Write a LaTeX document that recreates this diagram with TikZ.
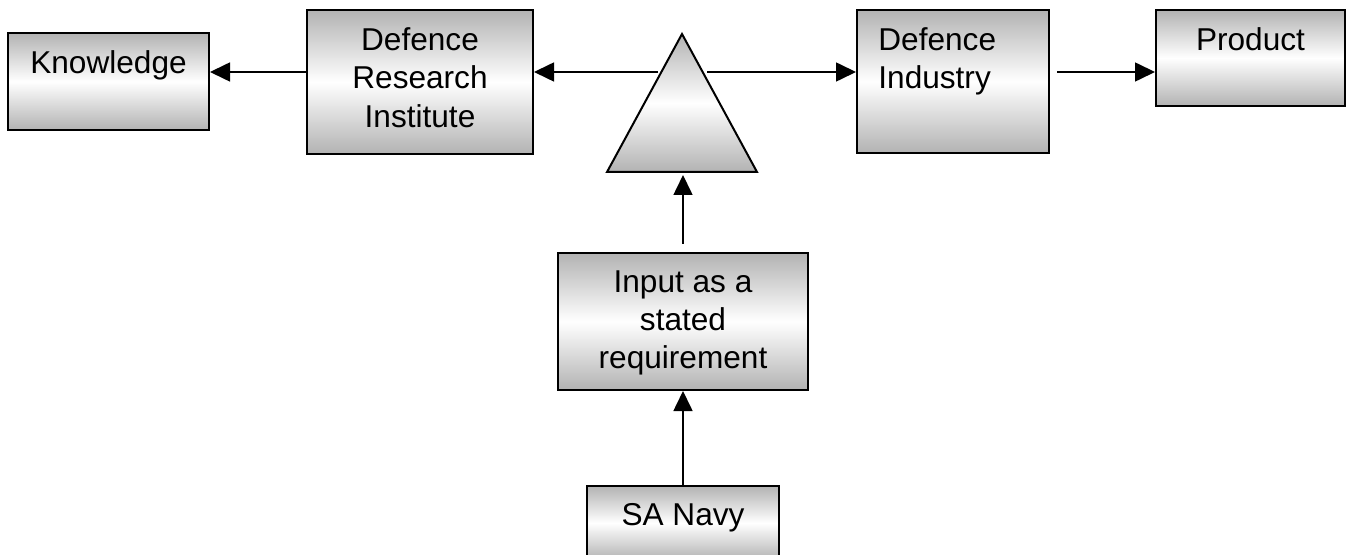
\documentclass[tikz,border=0pt]{standalone}
\usepackage{fontspec}
\setmainfont{Liberation Sans}
\usetikzlibrary{arrows.meta,positioning}
\tikzset{
  blok/.style={draw=black,line width=1pt,top color=black!30,bottom color=black!30,middle color=white,inner sep=0pt},
  txt/.style={inner sep=0pt,font=\fontsize{15.8pt}{19.2pt}\selectfont},
  pijl/.style={line width=0.8pt,-{Triangle[length=10pt,width=9.5pt]}}
}
\begin{document}
\begin{tikzpicture}[x=0.5pt,y=-0.5pt]
\useasboundingbox (0,0) rectangle (1348,555);
\node[blok,minimum width=100.5pt,minimum height=48.5pt] (know) at (108.5,81.5) {};
\node[blok,minimum width=113pt,minimum height=72pt] (dri) at (420,82) {};
\node[blok,minimum width=96pt,minimum height=71.5pt] (ind) at (953,81.5) {};
\node[blok,minimum width=94.5pt,minimum height=48pt] (prod) at (1250.5,58) {};
\node[blok,minimum width=125pt,minimum height=68.5pt] (inp) at (683,321.5) {};
\node[blok,minimum width=96pt,minimum height=37pt] (navy) at (683,523) {};
\draw[blok] (682,34) -- (757,172) -- (607,172) -- cycle;
\coordinate (tri-l) at (658,72);
\coordinate (tri-r) at (707,72);
\coordinate (tri-b) at (683,175);
\node[txt,anchor=north] (know-t) at ([yshift=-9pt]know.north) {Knowledge};
\node[txt,anchor=north,align=center] (dri-t) at ([yshift=-9pt]dri.north) {Defence\\Research\\Institute};
\node[txt,anchor=north west,align=left] (ind-t) at ([xshift=11pt,yshift=-9pt]ind.north west) {Defence\\Industry};
\node[txt,anchor=north] (prod-t) at ([yshift=-9pt]prod.north) {Product};
\node[txt,anchor=north,align=center] (inp-t) at ([yshift=-9pt]inp.north) {Input as a\\stated\\requirement};
\node[txt,anchor=north] (navy-t) at ([yshift=-9pt]navy.north) {SA Navy};
\draw[pijl] (dri.west |- tri-l) -- (know.east |- tri-l);
\draw[pijl] (tri-l) -- (dri.east |- tri-l);
\draw[pijl] (tri-r) -- (ind.west |- tri-r);
\draw[pijl,shorten <=3.5pt] (ind.east |- tri-r) -- (prod.west |- tri-r);
\draw[pijl,shorten <=4pt] (inp.north) -- (tri-b);
\draw[pijl] (navy.north) -- (inp.south);
\end{tikzpicture}
\end{document}
